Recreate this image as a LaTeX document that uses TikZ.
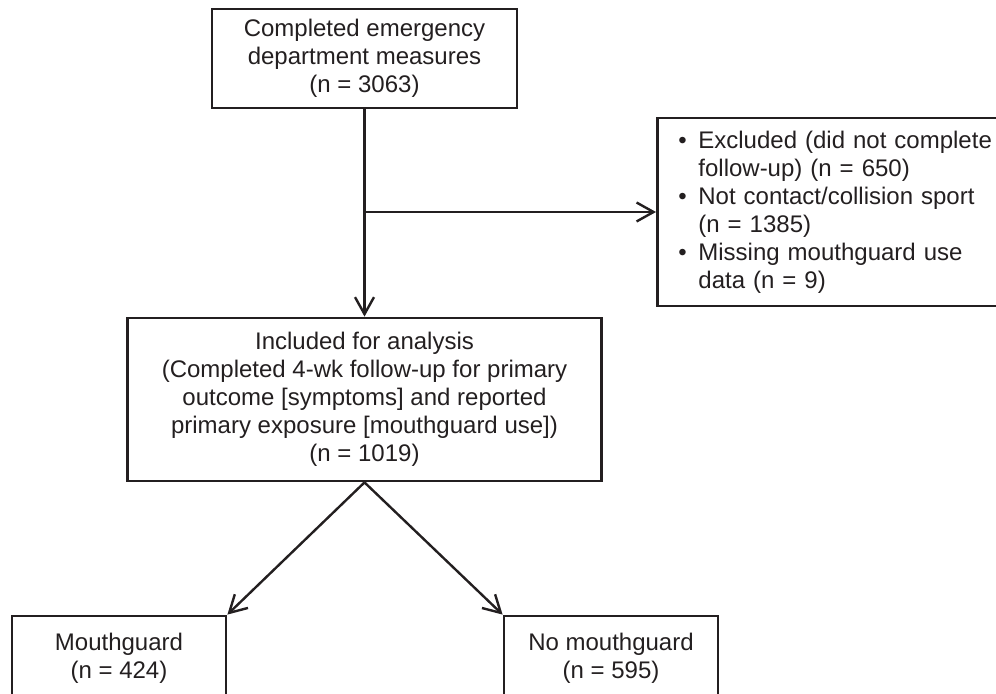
\documentclass[tikz,border=0pt]{standalone}
\usepackage{fontspec}
\setmainfont{Liberation Sans}
\usetikzlibrary{arrows.meta}
\definecolor{inkgray}{RGB}{35,31,32}

\begin{document}
\begin{tikzpicture}[x=0.5pt,y=-0.5pt,
    box/.style={draw=inkgray,line width=1.4pt,text=inkgray,align=center,inner sep=0pt,
      font=\fontsize{12}{14}\selectfont},
    flow/.style={draw=inkgray,line width=1.2pt,-{Straight Barb[length=8.5pt,width=9.5pt]}}]
        \useasboundingbox (0,0) rectangle (996,694);
        \clip (0,0) rectangle (996,694);
        % boxes
        \node[box,minimum width=152.5pt,minimum height=49.5pt] (measured) at (364.5,58.5)
            {Completed emergency\\department measures\\(n = 3063)};
        \node[box,anchor=west,align=left,text width=160pt,inner xsep=10.5pt,minimum height=94pt] (excluded) at (656,212)
            {\makebox[10pt][l]{\textbullet}Excluded (did not complete\\
             \hspace*{10pt}follow-up) (n = 650)\\
             \makebox[10pt][l]{\textbullet}Not contact/collision sport\\
             \hspace*{10pt}(n = 1385)\\
             \makebox[10pt][l]{\textbullet}Missing mouthguard use\\
             \hspace*{10pt}data (n = 9)};
        \node[box,minimum width=237pt,minimum height=81.5pt] (included) at (364.5,399.5)
            {Included for analysis\\(Completed 4-wk follow-up for primary\\outcome [symptoms] and reported\\primary exposure [mouthguard use])\\(n = 1019)};
        \node[box,minimum width=107pt,minimum height=42pt] (guard) at (119,658) {Mouthguard\\(n = 424)};
        \node[box,minimum width=107pt,minimum height=42pt] (noguard) at (611,658) {No mouthguard\\(n = 595)};
        % arrows
        \draw[flow] (measured.south) -- (included.north);
        \draw[flow] (measured.south |- excluded.west) -- (excluded.west);
        \draw[flow] (included.south) -- (guard.north east);
        \draw[flow] (included.south) -- (noguard.north west);
    \end{tikzpicture}
\end{document}
